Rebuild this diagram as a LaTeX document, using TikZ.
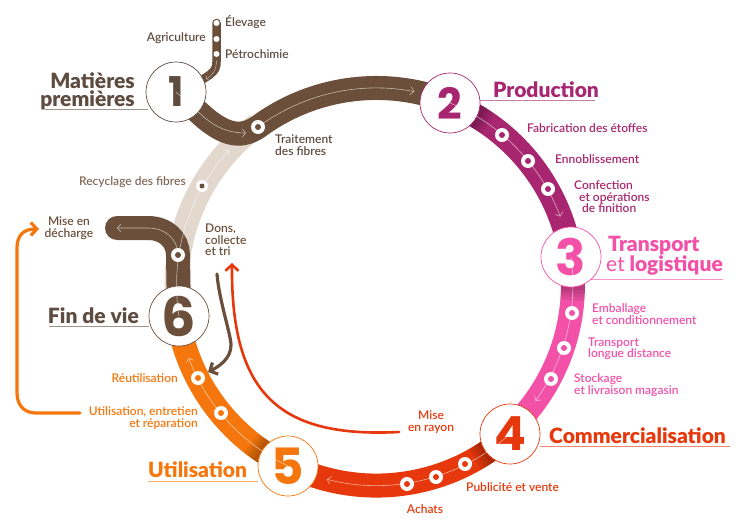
\documentclass[tikz,border=0pt]{standalone}
\usepackage{fontspec}
\setmainfont{Lato}
\newfontfamily\numfont{Poppins}
\newfontfamily\titlefont{Lato Black}
\newfontfamily\labelfont{Lato Semibold}
\usetikzlibrary{arrows.meta,backgrounds}
\definecolor{brownband}{RGB}{107, 79, 58}
\definecolor{beigeband}{RGB}{226, 216, 206}
\definecolor{prodcolor}{RGB}{168, 38, 112}
\definecolor{pinkcolor}{RGB}{243, 80, 168}
\definecolor{redcolor}{RGB}{230, 56, 12}
\definecolor{orangecolor}{RGB}{245, 118, 12}
\definecolor{darktext}{RGB}{94, 76, 64}
\tikzset{
    every node/.append style={align=center},
    stepcircle/.style={draw=#1, fill=white, circle, minimum size=60pt, inner sep=0pt, line width=0.7pt, text=#1},
    band/.style={draw=#1, line width=24pt},
    flowline/.style={draw=white, opacity=0.6, line width=0.6pt, -{Straight Barb[length=3.5pt,width=8pt]}},
    stopdot/.style={fill=white, circle, minimum size=14pt, inner sep=0pt},
    stopmark/.style={fill=#1, circle, minimum size=6pt, inner sep=0pt},
    steptitle/.style={font=\titlefont\fontsize{21}{18}\selectfont, text=#1, inner sep=0pt},
    steplabel/.style={font=\labelfont\fontsize{12}{11.5}\selectfont, text=#1, inner sep=0pt},
    titleline/.style={draw=#1, opacity=0.6, line width=0.8pt},
    returnline/.style={draw=#1, line width=3.2pt, line cap=round, -{Straight Barb[length=6pt,width=13pt]}}
}
\newcommand{\stepnum}[1]{\numfont\bfseries\fontsize{#1}{#1}\selectfont}

\begin{document}
\begin{tikzpicture}[x=1pt, y=-1pt]
    \useasboundingbox (0,0) rectangle (755,527);

    % Steps on the ring
    \node[stepcircle=darktext, font=\stepnum{41}] (n1) at (176,92) {1};
    \node[stepcircle=prodcolor, font=\stepnum{43}] (n2) at (450,103) {2};
    \node[stepcircle=pinkcolor, font=\stepnum{50}] (n3) at (571,257) {3};
    \node[stepcircle=redcolor, font=\stepnum{47}] (n4) at (510,434) {4};
    \node[stepcircle=orangecolor, font=\stepnum{50}] (n5) at (288,466) {5};
    \node[stepcircle=brownband, font=\stepnum{54}] (n6) at (179,316) {6};

    % Stops on the bands
    \coordinate (fibres) at (258,127);
    \coordinate (elevage) at (216.5,23);
    \coordinate (decharge) at (117,228);
    \coordinate (collecte) at (178,255);

    \begin{pgfonlayer}{background}
        % Ring
        \draw[band=beigeband] (n6.center) arc[start angle=171, end angle=233.5, radius=199];
        \draw[band=prodcolor] (n2.center) arc[start angle=-67.6, end angle=-8, radius=199];
        \draw[band=pinkcolor] (n3.center) arc[start angle=-8, end angle=47.8, radius=199];
        \draw[band=redcolor] (n4.center) arc[start angle=47.8, end angle=115.7, radius=199];
        \draw[band=orangecolor] (n5.center) arc[start angle=115.7, end angle=171, radius=199];
        % Darker start of each band
        \foreach \nn/\ang in {n2/-67.6, n3/-8, n4/47.8, n5/115.7}{
            \foreach \dd in {9.5,10.5,11.5,12.5}{
                \draw[band=black, opacity=0.07] (\nn.center) arc[start angle=\ang, delta angle=\dd, radius=199];
            }
        }
        % Brown parts
        \draw[band=brownband] (n1.center) -- (205,118) .. controls (228,137) and (243,137) .. (fibres)
            arc[start angle=233.5, end angle=292.4, radius=199];
        \draw[band=brownband, line cap=round] (decharge) -- (148,228) .. controls (166,228) and (178,240) .. (collecte);
        \draw[band=brownband] (collecte) -- (n6.center);
        \draw[draw=brownband, line width=8.5pt, line cap=round] (elevage) -- (216.5,62) .. controls (216.5,72) and (212,76) .. (n1.center);
    \end{pgfonlayer}

    % Arrows inside the bands
    \draw[flowline] (n2.center) arc[start angle=-67.6, end angle=-20.7, radius=199];
    \draw[flowline] (n3.center) arc[start angle=-8, end angle=35.7, radius=199];
    \draw[flowline] (n4.center) arc[start angle=47.8, end angle=104.4, radius=199];
    \draw[flowline] (n5.center) arc[start angle=115.7, end angle=159, radius=199];
    \draw[flowline] (n6.center) arc[start angle=171, end angle=222.5, radius=199];
    \draw[flowline] (fibres) arc[start angle=233.5, end angle=281, radius=199];
    \draw[flowline] (n1.center) -- (205,118) .. controls (216,127) and (228,133) .. (246,133);
    \draw[flowline] (collecte) .. controls (178,240) and (166,228) .. (148,228) -- (117,228);
    \draw[flowline, line width=0.4pt, -{Straight Barb[length=2pt,width=5pt]}] (216.5,60) .. controls (216.5,70) and (213,75) .. (206,79);

    % Stops
    \foreach \px/\py/\col in {258/127/brownband, 178/255/brownband, 502/135/prodcolor, 528/161/prodcolor, 548/189/prodcolor,
        572/313/pinkcolor, 564/348/pinkcolor, 551/379/pinkcolor, 465/464/redcolor, 436/477/redcolor, 407/484/redcolor,
        198/378/orangecolor, 221/413/orangecolor}{
        \node[stopdot] at (\px,\py) {};
        \node[stopmark=\col] at (\px,\py) {};
    }
    \node[stopdot, minimum size=12pt] (recyclage) at (202,186) {};
    \node[stopmark=brownband, minimum size=5pt] at (recyclage) {};
    \foreach \py in {23,39,54}{
        \node[fill=white, circle, minimum size=6pt, inner sep=0pt] at (216.5,\py) {};
    }

    % Return arrows
    \coordinate (usebase) at (80,413);
    \coordinate (usetop) at (39,229);
    \draw[returnline=orangecolor] (usebase) -- (36,413) .. controls (24,413) and (17,405) .. (17,393) -- (17,248)
        .. controls (17,236) and (23,229) .. (usetop);
    \coordinate (redstart) at (399,432);
    \coordinate (redtip) at (232,263);
    \draw[returnline=redcolor, line width=2.6pt] (redstart) .. controls (280,438) and (231,395) .. (redtip);
    \coordinate (brownstart) at (217,274);
    \coordinate (browntip) at (208,372);
    \draw[returnline=brownband] (brownstart) .. controls (219,300) and (231,335) .. (231,345)
        .. controls (231,358) and (220,366) .. (browntip);

    % Title lines
    \draw[titleline=darktext] (45,109) -- (148,109);
    \draw[titleline=prodcolor] (480,100) -- (595,100);
    \draw[titleline=pinkcolor] (590,279) -- (723,279);
    \draw[titleline=redcolor] (540,446) -- (730,446);
    \draw[titleline=orangecolor] (148,481) -- (258,481);
    \draw[titleline=darktext] (49,326) -- (149,326);

    % Titles
    \node[steptitle=darktext, anchor=east, align=right] (mat) at (135,91) {Matières\\premières};
    \node[steptitle=prodcolor, anchor=west] (prod) at (493,90) {Production};
    \node[steptitle=pinkcolor, anchor=west] (trans) at (608,246) {Transport};
    \node[steptitle=pinkcolor, anchor=east] (logi) at (723,265) {{\mdseries\rmfamily et} logistique};
    \node[steptitle=redcolor, anchor=west] (comm) at (549,436) {Commercialisation};
    \node[steptitle=orangecolor, anchor=west] (util) at (148,470) {Utilisation};
    \node[steptitle=darktext, anchor=east] (fin) at (139,316) {Fin de vie};

    % Labels
    \node[steplabel=darktext, anchor=west] (lab1) at (225,22) {Élevage};
    \node[steplabel=darktext, anchor=east] (lab2) at (206,38.5) {Agriculture};
    \node[steplabel=darktext, anchor=west] (lab3) at (225,54) {Pétrochimie};
    \node[steplabel=darktext, anchor=west, align=left] (lab4) at (275,145) {Traitement\\des fibres};
    \node[steplabel=brownband!80!beigeband, anchor=east] (lab5) at (186,182) {Recyclage des fibres};
    \node[steplabel=brownband] (lab6) at (69,228) {Mise en\\décharge};
    \node[steplabel=brownband, anchor=west, align=left] (lab7) at (205,240) {Dons,\\collecte\\et tri};
    \node[steplabel=prodcolor, anchor=west] (lab8) at (527,128) {Fabrication des étoffes};
    \node[steplabel=prodcolor, anchor=west] (lab9) at (555,159) {Ennoblissement};
    \node[steplabel=prodcolor, anchor=west, align=left] (lab10) at (574,197) {Confection\\\hspace*{5pt}et opérations\\\hspace*{8pt}de finition};
    \node[steplabel=pinkcolor, anchor=west, align=left] (lab11) at (592,314) {Emballage\\et conditionnement};
    \node[steplabel=pinkcolor, anchor=west, align=left] (lab12) at (588,349) {Transport\\longue distance};
    \node[steplabel=pinkcolor, anchor=west, align=left] (lab13) at (574,385) {Stockage\\et livraison magasin};
    \node[steplabel=redcolor] (lab14) at (431,422) {Mise\\en rayon};
    \node[steplabel=redcolor, anchor=west] (lab15) at (466,487) {Publicité et vente};
    \node[steplabel=redcolor] (lab16) at (425,509) {Achats};
    \node[steplabel=orangecolor, anchor=east] (lab17) at (178,378) {Réutilisation};
    \node[steplabel=orangecolor, anchor=east, align=right] (lab18) at (198,418) {Utilisation, entretien\\et réparation};
\end{tikzpicture}
\end{document}
